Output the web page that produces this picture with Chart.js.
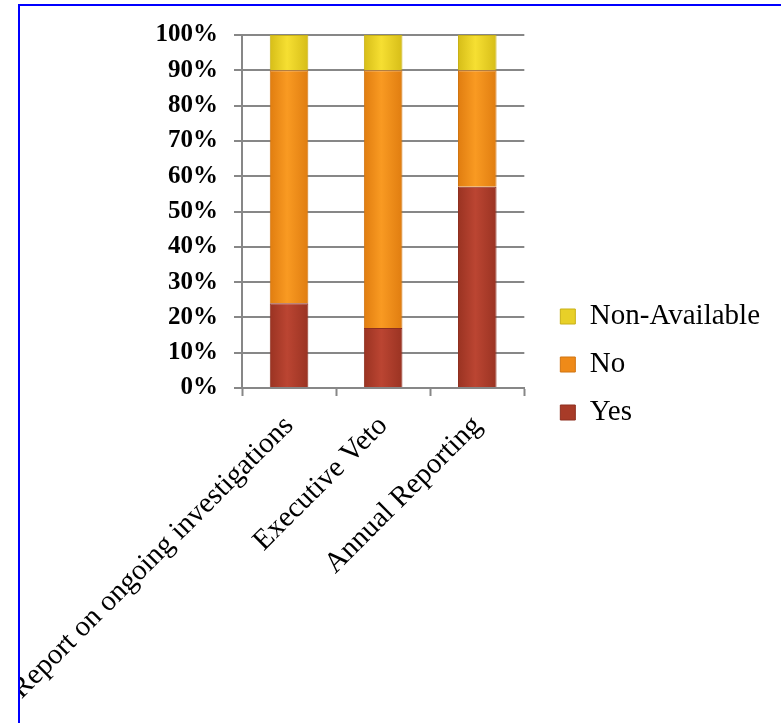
<!DOCTYPE html>
<html>
<head>
<meta charset="utf-8">
<script src="https://cdn.jsdelivr.net/npm/chart.js@4/dist/chart.umd.min.js"></script>
<style>
    body { margin: 0; background: #fff; }
    .frame {
        position: absolute;
        left: 18px;
        top: 4px;
        width: 761px;
        height: 717px;
        border-top: 2px solid #0000ff;
        border-left: 2px solid #0000ff;
        overflow: hidden;
    }
    canvas { display: block; }
</style>
</head>
<body>
<div class="frame"><canvas id="statsChart" width="761" height="717"></canvas></div>
<script>
// Chart data
const categories = ['Report on ongoing investigations', 'Executive Veto', 'Annual Reporting'];
const yesValues = [24, 17, 57];
const noValues = [66, 73, 33];
const naValues = [10, 10, 10];
const yTicks = [0, 10, 20, 30, 40, 50, 60, 70, 80, 90, 100];

const barPct = 0.41;

// horizontal shading across each bar, darker at the edges
function barShade(edge, mid) {
    return function(context) {
        const chart = context.chart;
        const xs = chart.scales.x;
        if (!xs || context.dataIndex === undefined) return mid;
        const cx = xs.getPixelForValue(context.dataIndex);
        const half = (xs.width / categories.length) * barPct / 2;
        if (!isFinite(cx) || !isFinite(half) || half <= 0) return mid;
        const g = chart.ctx.createLinearGradient(cx - half, 0, cx + half, 0);
        g.addColorStop(0, edge);
        g.addColorStop(0.45, mid);
        g.addColorStop(1, edge);
        return g;
    };
}

document.addEventListener('DOMContentLoaded', function() {
    const ctx = document.getElementById('statsChart').getContext('2d');

    const chart = new Chart(ctx, {
        type: 'bar',
        data: {
            labels: categories,
            datasets: [
                {
                    label: 'Yes',
                    data: yesValues,
                    backgroundColor: barShade('#9a3322', '#bb4532'),
                    borderColor: '#8e2f1f',
                    borderWidth: 1
                },
                {
                    label: 'No',
                    data: noValues,
                    backgroundColor: barShade('#e07d10', '#f99a22'),
                    borderColor: '#d07410',
                    borderWidth: 1
                },
                {
                    label: 'Non-Available',
                    data: naValues,
                    backgroundColor: barShade('#d6bd18', '#f6df32'),
                    borderColor: '#c8b016',
                    borderWidth: 1
                }
            ]
        },
        options: {
            responsive: false,
            animation: false,
            categoryPercentage: 1,
            barPercentage: barPct,
            layout: {
                padding: { left: 0, top: 0, bottom: 0, right: 11 }
            },
            plugins: {
                legend: {
                    position: 'right',
                    reverse: true,
                    maxWidth: 320,
                    labels: {
                        boxWidth: 15,
                        boxHeight: 15,
                        padding: 19,
                        color: '#000',
                        font: { family: 'Liberation Serif', size: 29 },
                        generateLabels: function(chart) {
                            const items = Chart.defaults.plugins.legend.labels.generateLabels(chart);
                            const fills = ['#a83b28', '#ef8a18', '#e8d028'];
                            items.forEach((item, i) => { item.fillStyle = fills[i]; });
                            return items;
                        }
                    }
                },
                tooltip: { enabled: false }
            },
            scales: {
                x: {
                    stacked: true,
                    offset: true,
                    afterFit: function(scale) {
                        scale.height = 335;
                        scale.paddingLeft = 0;
                        scale.paddingRight = 0;
                    },
                    ticks: {
                        autoSkip: false,
                        minRotation: 45,
                        maxRotation: 45,
                        padding: 13,
                        color: '#000',
                        font: { family: 'Liberation Serif', size: 29 }
                    },
                    grid: {
                        offset: true,
                        drawOnChartArea: false,
                        tickLength: 8,
                        tickWidth: 2,
                        tickColor: '#878787'
                    },
                    border: { color: '#878787', width: 2 }
                },
                y: {
                    stacked: true,
                    min: 0,
                    max: 100,
                    afterFit: function(scale) {
                        scale.width = 222;
                        scale.paddingTop = 29;
                        scale.paddingBottom = 0;
                    },
                    afterBuildTicks: function(scale) {
                        scale.ticks = yTicks.map(v => ({ value: v }));
                    },
                    ticks: {
                        padding: 16,
                        color: '#000',
                        font: { family: 'Liberation Serif', size: 25, weight: 'bold' },
                        callback: function(value) {
                            return value + '%';
                        }
                    },
                    grid: {
                        color: '#878787',
                        lineWidth: 2,
                        tickLength: 8
                    },
                    border: { color: '#878787', width: 2 }
                },
                gap: {
                    type: 'linear',
                    position: 'right',
                    display: true,
                    afterFit: function(scale) {
                        scale.width = 17;
                    },
                    ticks: { display: false },
                    grid: { display: false, drawTicks: false },
                    border: { display: false }
                }
            }
        }
    });
    // second pass so the bar shading picks up the final scale positions
    chart.update();
});
</script>
</body>
</html>
